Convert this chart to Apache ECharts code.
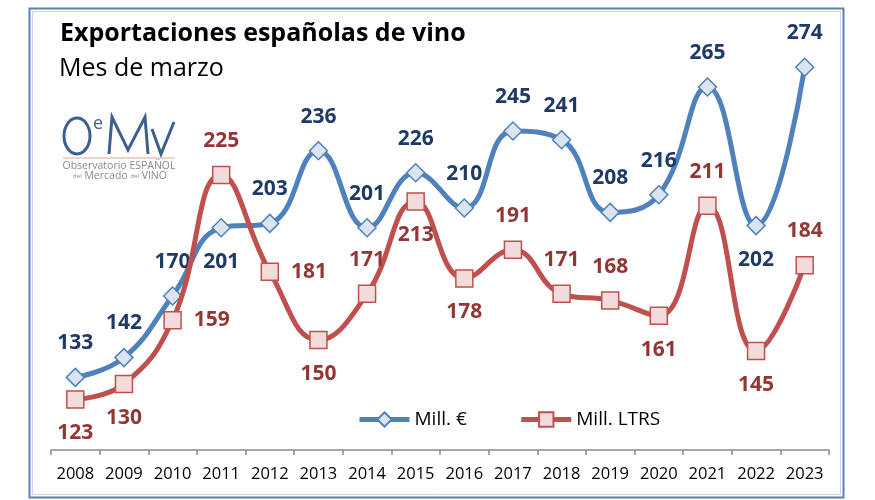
<!DOCTYPE html>
<html><head><meta charset="utf-8">
<script src="https://cdn.jsdelivr.net/npm/echarts@6/dist/echarts.min.js"></script>
<style>html,body{margin:0;padding:0;background:#fff}#c{width:875px;height:500px}</style>
</head><body><div id="c"></div>
<script>
const years = ['2008','2009','2010','2011','2012','2013','2014','2015','2016','2017','2018','2019','2020','2021','2022','2023'];
const euros = [133,142,170,201,203,236,201,226,210,245,241,208,216,265,202,274];
const litros = [123,130,159,225,181,150,171,213,178,191,171,168,161,211,145,184];
const seriesNames = ['Mill. €', 'Mill. LTRS'];
const titleText = 'Exportaciones españolas de vino';
const subtitleText = 'Mes de marzo';

// label placement (layout, not data)
const eurosLabelPos = ['top','top','top','bottom','top','top','top','top','top','top','top','top','top','top','bottom','top'];
const litrosLabelPos = ['bottom','bottom','right','top','right','bottom','top','bottom','bottom','top','top','top','bottom','top','bottom','top'];

const FONT = '"Open Sans", "Noto Sans", sans-serif';

function withLabels(values, positions) {
  return values.map((v, i) => ({
    value: v,
    label: { position: positions[i], distance: positions[i] === 'right' ? 12 : 14 }
  }));
}

const chart = echarts.init(document.getElementById('c'), null, { renderer: 'canvas' });
const logoColor = '#3d5f8f';

chart.setOption({
  animation: false,
  backgroundColor: '#ffffff',
  grid: { left: 51, right: 46, top: 32, bottom: 50, containLabel: false },
  xAxis: {
    type: 'category',
    data: years,
    boundaryGap: true,
    axisLine: { lineStyle: { color: '#8c8c8c', width: 1.5 } },
    axisTick: { show: true, length: 5, interval: 0, lineStyle: { color: '#8c8c8c', width: 1.5 } },
    axisLabel: { interval: 0, color: '#000', fontFamily: FONT, fontSize: 16.5, margin: 16 },
    splitLine: { show: false }
  },
  yAxis: {
    type: 'value', min: 100, max: 290, show: false, splitLine: { show: false }
  },
  legend: {
    left: 352, top: 405,
    itemWidth: 50, itemHeight: 18, itemGap: 52,
    lineStyle: { width: 5 },
    textStyle: { fontFamily: FONT, fontSize: 19, color: '#000' },
    data: seriesNames
  },
  series: [
    {
      name: seriesNames[0],
      type: 'line',
      data: withLabels(euros, eurosLabelPos),
      smooth: 0.45,
      symbol: 'diamond', symbolSize: 18,
      lineStyle: { color: '#4f81bd', width: 5 },
      itemStyle: { color: '#dbe5f1', borderColor: '#4f81bd', borderWidth: 1.5 },
      label: { show: true, color: '#1f3a68', fontFamily: FONT, fontWeight: 'bold', fontSize: 21 },
      z: 2
    },
    {
      name: seriesNames[1],
      type: 'line',
      data: withLabels(litros, litrosLabelPos),
      smooth: 0.45,
      symbol: 'rect', symbolSize: 17,
      lineStyle: { color: '#c0504d', width: 5 },
      itemStyle: { color: '#f2dcdb', borderColor: '#c0504d', borderWidth: 1.5 },
      label: { show: true, color: '#943634', fontFamily: FONT, fontWeight: 'bold', fontSize: 21 },
      z: 3
    }
  ],
  graphic: [
    { type: 'rect', shape: { x: 29.5, y: 8.5, width: 814, height: 489 }, style: { fill: 'none', stroke: '#5b7fb6', lineWidth: 2 }, z: 0 },
    { type: 'rect', shape: { x: 32.5, y: 11.5, width: 808, height: 483 }, style: { fill: 'none', stroke: '#c9d5e8', lineWidth: 1 }, z: 0 },
    { type: 'text', left: 60, top: 21, style: { text: titleText, fontFamily: FONT, fontWeight: 'bold', fontSize: 25, fill: '#000' } },
    { type: 'text', left: 59, top: 56, style: { text: subtitleText, fontFamily: FONT, fontSize: 25, fill: '#000' } },
    // logo
    { type: 'ellipse', shape: { cx: 77, cy: 136, rx: 13, ry: 18 }, style: { fill: 'none', stroke: logoColor, lineWidth: 3 } },
    { type: 'text', x: 93, y: 115, style: { text: 'e', fontFamily: FONT, fontSize: 18, fill: logoColor } },
    { type: 'polyline', shape: { points: [[109,154],[112,117],[128,150],[145,117],[148,154]] }, style: { fill: 'none', stroke: logoColor, lineWidth: 3 } },
    { type: 'polyline', shape: { points: [[152,129],[161,154],[174,122]] }, style: { fill: 'none', stroke: logoColor, lineWidth: 3 } },
    { type: 'line', shape: { x1: 63, y1: 158, x2: 175, y2: 158 }, style: { stroke: '#d9a99a', lineWidth: 1 } },
    { type: 'text', x: 119, y: 166, style: { text: 'Observatorio ESPAÑOL', align: 'center', verticalAlign: 'middle', fontFamily: FONT, fontSize: 10.5, fill: '#8a8a8a' } },
    { type: 'text', x: 120, y: 176, style: { text: '{s|del} Mercado {s|del} VINO', align: 'center', verticalAlign: 'middle', fontFamily: FONT, fontSize: 10.5, fill: '#8a8a8a', rich: { s: { fontSize: 6, fill: '#8a8a8a', fontFamily: FONT } } } }
  ]
});
</script>
</body></html>
